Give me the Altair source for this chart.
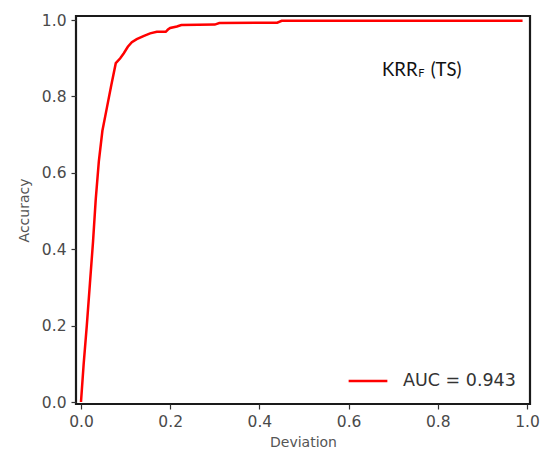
import altair as alt
import pandas as pd

deviation = [0, 0.006, 0.013, 0.02, 0.027, 0.033, 0.04, 0.048, 0.058, 0.068,
             0.078, 0.088, 0.096, 0.105, 0.114, 0.125, 0.14, 0.155, 0.17, 0.19,
             0.195, 0.2, 0.215, 0.225, 0.30, 0.31, 0.44, 0.45, 0.99]
accuracy = [0, 0.1, 0.2, 0.31, 0.42, 0.53, 0.63, 0.71, 0.77, 0.83,
            0.887, 0.9, 0.913, 0.93, 0.942, 0.95, 0.958, 0.965, 0.969, 0.969,
            0.975, 0.979, 0.983, 0.987, 0.988, 0.992, 0.993, 0.998, 0.998]
series_label = "AUC = 0.943"

ann_text = ["KRR", "F", "(TS)"]
ann_x = [0.675, 0.756, 0.784]
ann_y = [0.869, 0.858, 0.869]
ann_size = [18.5, 11, 18.5]

df = pd.DataFrame({"Deviation": deviation, "Accuracy": accuracy, "s": series_label})
ann = pd.DataFrame({"t": ann_text, "x": ann_x, "y": ann_y, "size": ann_size})

xscale = alt.Scale(domain=[-0.0112, 1.0067], nice=False, zero=False)
yscale = alt.Scale(domain=[-0.0052, 1.0105], nice=False, zero=False)

line = alt.Chart(df).mark_line(strokeWidth=2.5, clip=True).encode(
    x=alt.X("Deviation:Q", scale=xscale, title="Deviation",
            axis=alt.Axis(values=[0, 0.2, 0.4, 0.6, 0.8, 1.0], format=".1f")),
    y=alt.Y("Accuracy:Q", scale=yscale, title="Accuracy",
            axis=alt.Axis(values=[0, 0.2, 0.4, 0.6, 0.8, 1.0], format=".1f")),
    color=alt.Color("s:N", scale=alt.Scale(range=["#ff0000"]),
                    legend=alt.Legend(title=None, orient="bottom-right",
                                      symbolType="stroke", symbolSize=1500,
                                      symbolStrokeWidth=2.5, labelFontSize=17.5,
                                      labelFont="DejaVu Sans", labelColor="#333",
                                      labelOffset=14, offset=14, padding=0)),
)

text = alt.Chart(ann).mark_text(align="left", baseline="middle", font="Lato",
                                color="#111").encode(
    x=alt.X("x:Q", scale=xscale),
    y=alt.Y("y:Q", scale=yscale),
    text="t:N",
    size=alt.Size("size:Q", scale=None, legend=None),
)

chart = alt.layer(line, text).properties(
    width=454, height=388,
    autosize=alt.AutoSizeParams(type="none"),
    padding={"left": 76, "top": 16, "right": 11, "bottom": 53},
).configure_view(stroke="#1a1a1a", strokeWidth=2.2).configure_axis(
    grid=False, domain=False, tickColor="#333", tickSize=5, tickWidth=1.2,
    labelFont="DejaVu Sans", labelFontSize=15.5, labelColor="#4a4a4a",
    labelPadding=5, titleFont="DejaVu Sans", titleFontSize=14,
    titleColor="#555", titleFontWeight="normal",
).configure_axisX(titlePadding=6).configure_axisY(titlePadding=10)

chart.save("out.html", embed_options={"renderer": "svg", "actions": False})
